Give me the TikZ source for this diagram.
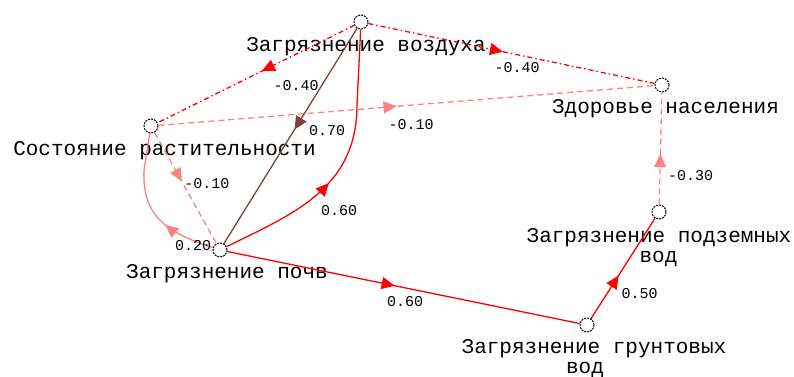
\documentclass[tikz,border=0pt]{standalone}
\usepackage{fontspec}
\newfontfamily\monofont{Liberation Mono}
\usetikzlibrary{arrows.meta,decorations.markings}

\definecolor{linkred}{RGB}{255,0,0}
\definecolor{linkpink}{RGB}{255,128,128}
\definecolor{linkbrown}{RGB}{128,64,64}

\begin{document}
\begin{tikzpicture}[x=1pt,y=-1pt,
  factor/.style={circle,draw=black,dash pattern=on 2pt off 1pt,line width=1pt,minimum size=14pt,inner sep=0pt},
  factorname/.style={font=\monofont\fontsize{21}{23}\selectfont,inner sep=0pt,anchor=base},
  weight/.style={font=\monofont\fontsize{15}{17}\selectfont,inner sep=0pt},
  link/.style={line width=1.3pt},
  redlink/.style={link,draw=linkred},
  redlinkdash/.style={link,draw=linkred,dash pattern=on 5pt off 3pt on 1.5pt off 3pt},
  pinklink/.style={link,draw=linkpink},
  pinklinkdash/.style={link,draw=linkpink,dash pattern=on 6pt off 4pt},
  brownlink/.style={link,draw=linkbrown},
  midarrow/.style={postaction={decorate},decoration={markings,
    mark=at position #1 with {\arrow{Triangle[length=13pt,width=12pt]}}}}
]
\useasboundingbox (0,0) rectangle (794,376);

% factors
\node[factor] (A) at (361,22) {};
\node[factor] (V) at (151,126) {};
\node[factor] (H) at (662,85) {};
\node[factor] (S) at (220,250) {};
\node[factor] (U) at (659,212) {};
\node[factor] (G) at (587,325) {};

% factor names
\node[factorname] (nA) at (366,51) {Загрязнение воздуха};
\node[factorname] (nV) at (164.5,155) {Состояние растительности};
\node[factorname] (nH) at (665.5,113) {Здоровье населения};
\node[factorname] (nS) at (227,278) {Загрязнение почв};
\node[factorname] (nU1) at (659,242) {Загрязнение подземных};
\node[factorname] (nU2) at (658.5,262) {вод};
\node[factorname] (nG1) at (594,353) {Загрязнение грунтовых};
\node[factorname] (nG2) at (585,373) {вод};

% influences
\draw[redlinkdash,midarrow=0.47] (A) -- (V);
\draw[redlinkdash,midarrow=0.47] (A) -- (H);
\draw[pinklinkdash,midarrow=0.48] (V) -- (H);
\draw[brownlink,midarrow=0.47] (A) -- (S);
\draw[redlink,midarrow=0.43] (S) .. controls (290,215) and (357,190) .. (357,105) -- (A);
\draw[pinklink,midarrow=0.35] (S) .. controls (165,232) and (142,215) .. (144,170) -- (V);
\draw[pinklinkdash,midarrow=0.44] (V) -- (S);
\draw[redlink,midarrow=0.475] (S) -- (G);
\draw[redlink,midarrow=0.43] (G) -- (U);
\draw[pinklinkdash,midarrow=0.45] (U) -- (H);

% weights
\node[weight] (wAV) at (296,86) {-0.40};
\node[weight] (wAH) at (517,67.5) {-0.40};
\node[weight] (wVH) at (411,125) {-0.10};
\node[weight] (wAS) at (327,131) {0.70};
\node[weight] (wSA) at (339,211) {0.60};
\node[weight] (wSV) at (193,246) {0.20};
\node[weight] (wVS) at (207,183.5) {-0.10};
\node[weight] (wSG) at (405,301.5) {0.60};
\node[weight] (wGU) at (639.5,294) {0.50};
\node[weight] (wUH) at (690.5,175.5) {-0.30};
\end{tikzpicture}
\end{document}
